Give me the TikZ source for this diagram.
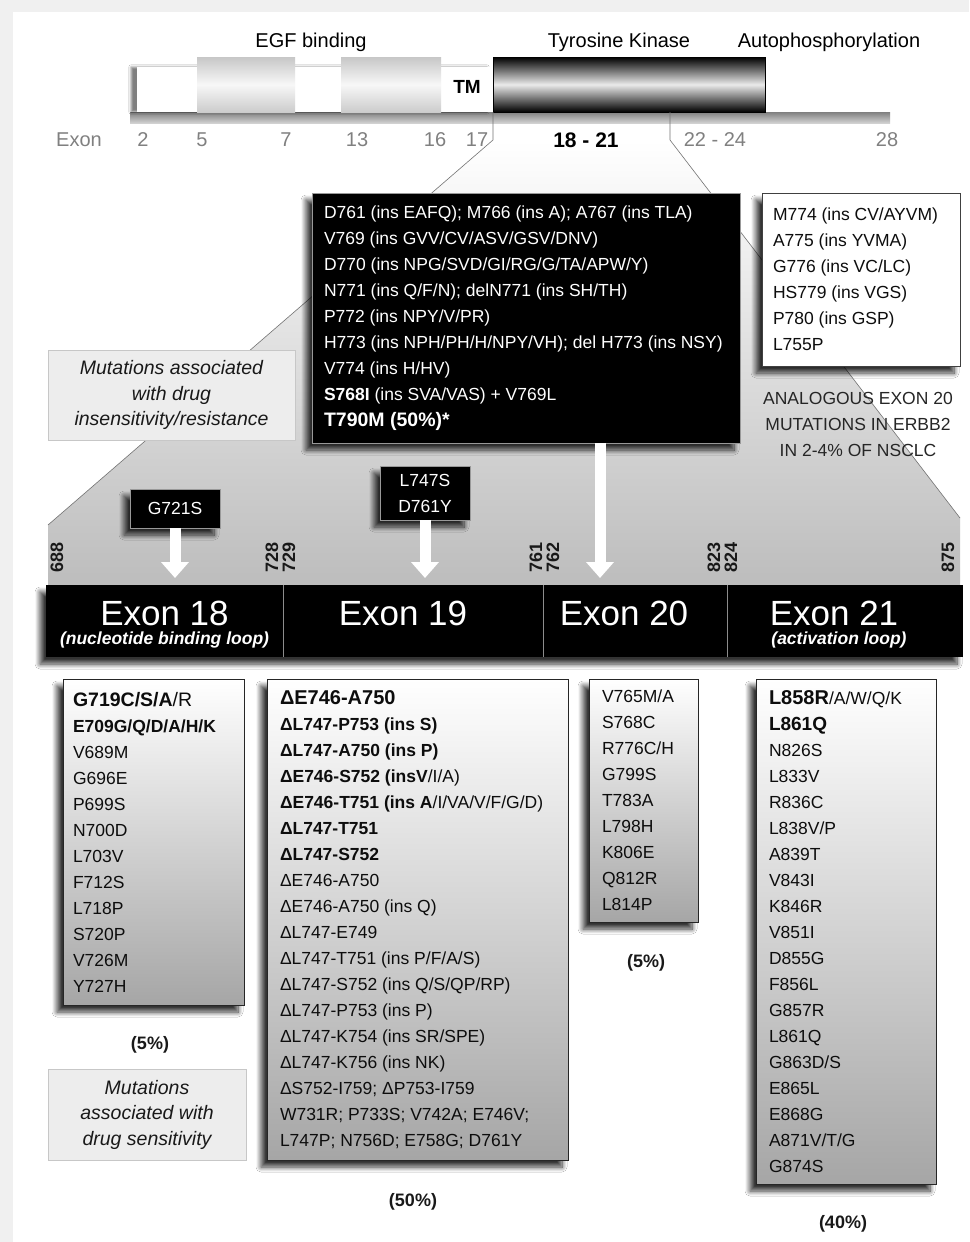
\documentclass[tikz,border=0pt]{standalone}
\usepackage{fontspec}
\setmainfont{Liberation Sans}
\usetikzlibrary{shadows,shadows.blur,arrows.meta,positioning}

\newcommand{\mutbig}[1]{{\fontsize{20}{26}\selectfont\bfseries #1}}

\begin{document}
\begin{tikzpicture}[
    x=1pt, y=-1pt,
    every node/.style={inner sep=0pt, outer sep=0pt},
    txt/.style={font=\fontsize{17.5}{26}\selectfont, text=black!95},
    hdr/.style={font=\fontsize{20}{24}\selectfont, text=black},
    exnum/.style={font=\fontsize{20}{24}\selectfont, text=black!50},
    posnum/.style={font=\fontsize{18}{20}\selectfont\bfseries, rotate=90, text=black!90},
    dshadow/.style={blur shadow={shadow xshift=-6pt, shadow yshift=-7pt, shadow blur steps=10, shadow blur radius=5pt, shadow opacity=80}},
    listbox/.style={draw=black!85, line width=0.9pt, top color=white, bottom color=black!35, anchor=north west, dshadow},
    listtxt/.style={txt, align=left, anchor=west},
    blackbox/.style={txt, fill=black, draw=black!40, text=white, align=left, dshadow},
    egfdom/.style={minimum height=55pt, top color=black!22, bottom color=black!20, middle color=black!3, anchor=south west},
    kindom/.style={minimum height=55pt, top color=black, bottom color=black, middle color=black!8, draw=black, anchor=south west},
    exonbox/.style={fill=black, minimum height=72pt},
    exname/.style={font=\fontsize{35}{38}\selectfont, text=white},
    exsub/.style={font=\fontsize{17.5}{20}\selectfont\bfseries\itshape, text=white},
    note/.style={fill=black!7, draw=black!22, line width=0.8pt, font=\fontsize{19.5}{25.5}\selectfont\itshape, text=black!90, align=center},
    pct/.style={font=\fontsize{18}{20}\selectfont\bfseries, text=black!90},
    wharrow/.style={white, line width=11pt, -{Triangle[width=27pt, length=16pt]}},
    zoomline/.style={draw=black!55, line width=0.6pt}
]
  \useasboundingbox (0,0) rectangle (969,1242);
  \fill[black!6] (0,0) rectangle (969,1242);
  \fill[white] (13,12) rectangle (969,1242);

  % Receptor outline with its domains.
  \fill[top color=black!50, bottom color=black!18] (130,112) rectangle (890,123);
  \node[fill=white, minimum width=356pt, minimum height=45pt, anchor=south west,
        blur shadow={shadow xshift=-6pt, shadow yshift=0pt, shadow opacity=50}] (ecd) at (137,112) {};
  \node[egfdom, minimum width=98pt] (egf1) at (197,112) {};
  \node[egfdom, minimum width=100pt] (egf2) at (341,112) {};
  \node[kindom, minimum width=272pt] (kin) at (493,112) {};
  \node[hdr] (egflab) at (311,42) {EGF binding};
  \node[hdr] (tklab) at (619,42) {Tyrosine Kinase};
  \node[hdr] (aplab) at (829,42) {Autophosphorylation};
  \node[font=\fontsize{19}{20}\selectfont\bfseries] (tm) at (467,87) {TM};

  % Zoom from the kinase domain onto exons 18-21.
  \coordinate (zl) at (493,140);
  \coordinate (zr) at (670,140);
  \coordinate (bl) at (48,525);
  \coordinate (br) at (960,518);
  \shade[top color=white, bottom color=black!26] (zl) -- (zr) -- (br) -- (960,585) -- (48,585) -- (bl) -- cycle;
  \draw[zoomline] (kin.south west) -- (zl) -- (bl);
  \draw[zoomline] (kin.south west -| zr) -- (zr) -- (br);

  \node[exnum] (exword) at (79,140) {Exon};
  \foreach \x/\n [count=\k] in {143/2, 202/5, 286/7, 357/13, 435/16, 477/17, 715/22 - 24, 887/28}
    \node[exnum] (en\k) at (\x,140) {\n};
  \node[font=\fontsize{21}{24}\selectfont\bfseries] (enk) at (586,140) {18 - 21};

  % Exon 20 insertions
  \node[blackbox, anchor=north west, minimum width=428pt, minimum height=250pt] (ins20) at (312,193) {};
  \node[listtxt, text=white] (ins20t) at ([xshift=12pt]ins20.west) {%
    D761 (ins EAFQ); M766 (ins A); A767 (ins TLA)\\
    V769 (ins GVV/CV/ASV/GSV/DNV)\\
    D770 (ins NPG/SVD/GI/RG/G/TA/APW/Y)\\
    N771 (ins Q/F/N); delN771 (ins SH/TH)\\
    P772 (ins NPY/V/PR)\\
    H773 (ins NPH/PH/H/NPY/VH); del H773 (ins NSY)\\
    V774 (ins H/HV)\\
    \textbf{S768I} (ins SVA/VAS) + V769L\\
    {\fontsize{19.5}{26}\selectfont\bfseries T790M (50\%)*}};

  \node[fill=white, draw=black!75, line width=0.8pt, anchor=north west, minimum width=198pt,
        minimum height=173pt, dshadow] (ins20b) at (762,193) {};
  \node[listtxt] (ins20bt) at ([xshift=11pt]ins20b.west) {%
    M774 (ins CV/AYVM)\\
    A775 (ins YVMA)\\
    G776 (ins VC/LC)\\
    HS779 (ins VGS)\\
    P780 (ins GSP)\\
    L755P};
  \node[txt, align=center, text=black!85] (erbb2) at (858,424)
    {ANALOGOUS EXON 20\\MUTATIONS IN ERBB2\\IN 2-4\% OF NSCLC};

  \node[note, minimum width=247pt, minimum height=90pt] (resist) at (171.5,395)
    {Mutations associated\\with drug\\insensitivity/resistance};

  % Exon bar
  \node[exonbox, minimum width=917pt, anchor=north west, dshadow] (exbar) at (46,585) {};
  \node[exonbox, minimum width=237pt, anchor=north west] (ex18) at (46,585) {};
  \node[exonbox, minimum width=260pt, right=0pt of ex18] (ex19) {};
  \node[exonbox, minimum width=184pt, right=0pt of ex19] (ex20) {};
  \node[exonbox, minimum width=236pt, right=0pt of ex20] (ex21) {};
  \foreach \e in {19,20,21}
    \draw[black!45, line width=0.8pt] (ex\e.north west) -- (ex\e.south west);
  \node[exname] (n18) at ([yshift=-28pt]ex18.north) {Exon 18};
  \node[exname] (n19) at ([xshift=-10pt, yshift=-28pt]ex19.north) {Exon 19};
  \node[exname] (n20) at ([xshift=-11pt, yshift=-28pt]ex20.north) {Exon 20};
  \node[exname] (n21) at ([xshift=-11pt, yshift=-28pt]ex21.north) {Exon 21};
  \node[exsub] (s18) at ([yshift=-55pt]ex18.north) {(nucleotide binding loop)};
  \node[exsub] (s21) at ([xshift=-6pt, yshift=-55pt]ex21.north) {(activation loop)};

  \foreach \x/\n in {57/688, 272/728, 289/729, 536/761, 553/762, 714/823, 731/824, 948/875}
    \node[posnum] (p\n) at (\x,557) {\n};

  % Single point mutations pointing onto the bar
  \node[blackbox, minimum width=90pt, minimum height=39pt, align=center] (g721) at (175,508.5) {G721S};
  \node[blackbox, minimum width=90pt, minimum height=54pt, align=center] (l747) at (425,493) {L747S\\D761Y};
  \coordinate (a20) at (600,585);
  \draw[wharrow, shorten >=7pt] (g721.south) -- (g721.south |- exbar.north);
  \draw[wharrow, shorten >=7pt] (l747.south) -- (l747.south |- exbar.north);
  \draw[wharrow, shorten >=7pt] (ins20.south -| a20) -- (a20);

  % Mutation lists per exon
  \node[listbox, minimum width=181pt, minimum height=326pt] (l18) at (63,679) {};
  \node[listtxt] (l18t) at ([xshift=10pt]l18.west) {%
    {\fontsize{19.5}{26}\selectfont\bfseries G719C/S/A}{\fontsize{19.5}{26}\selectfont /R}\\
    \textbf{E709G/Q/D/A/H/K}\\
    V689M\\ G696E\\ P699S\\ N700D\\ L703V\\ F712S\\ L718P\\ S720P\\ V726M\\ Y727H};

  \node[listbox, minimum width=301pt, minimum height=481pt] (l19) at (267,679) {};
  \node[listtxt] (l19t) at ([xshift=13pt]l19.west) {%
    \mutbig{ΔE746-A750}\\
    \textbf{ΔL747-P753 (ins S)}\\
    \textbf{ΔL747-A750 (ins P)}\\
    \textbf{ΔE746-S752 (insV}/I/A)\\
    \textbf{ΔE746-T751 (ins A}/I/VA/V/F/G/D)\\
    \textbf{ΔL747-T751}\\
    \textbf{ΔL747-S752}\\
    ΔE746-A750\\
    ΔE746-A750 (ins Q)\\
    ΔL747-E749\\
    ΔL747-T751 (ins P/F/A/S)\\
    ΔL747-S752 (ins Q/S/QP/RP)\\
    ΔL747-P753 (ins P)\\
    ΔL747-K754 (ins SR/SPE)\\
    ΔL747-K756 (ins NK)\\
    ΔS752-I759; ΔP753-I759\\
    W731R; P733S; V742A; E746V;\\
    L747P; N756D; E758G; D761Y};

  \node[listbox, minimum width=109pt, minimum height=243pt] (l20) at (589,679) {};
  \node[listtxt] (l20t) at ([xshift=13pt]l20.west) {%
    V765M/A\\ S768C\\ R776C/H\\ G799S\\ T783A\\ L798H\\ K806E\\ Q812R\\ L814P};

  \node[listbox, minimum width=180pt, minimum height=505pt] (l21) at (756,679) {};
  \node[listtxt] (l21t) at ([xshift=13pt]l21.west) {%
    \mutbig{L858R}/A/W/Q/K\\
    {\fontsize{19}{26}\selectfont\bfseries L861Q}\\
    N826S\\ L833V\\ R836C\\ L838V/P\\ A839T\\ V843I\\ K846R\\ V851I\\ D855G\\
    F856L\\ G857R\\ L861Q\\ G863D/S\\ E865L\\ E868G\\ A871V/T/G\\ G874S};

  \node[pct] (pc18) at (150,1045) {(5\%)};
  \node[pct] (pc19) at (413,1202) {(50\%)};
  \node[pct] (pc20) at (646,963) {(5\%)};
  \node[pct] (pc21) at (843,1224) {(40\%)};

  \node[note, minimum width=198pt, minimum height=91pt] (sens) at (147,1114.5)
    {Mutations\\associated with\\drug sensitivity};
\end{tikzpicture}
\end{document}
